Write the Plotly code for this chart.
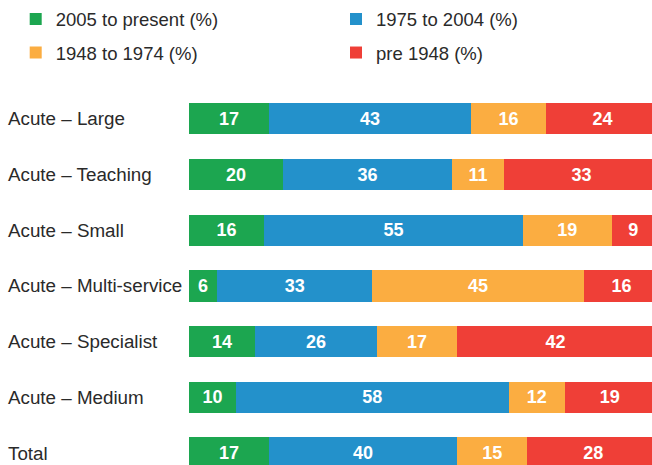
import plotly.graph_objects as go

categories = [
    "Acute – Large",
    "Acute – Teaching",
    "Acute – Small",
    "Acute – Multi-service",
    "Acute – Specialist",
    "Acute – Medium",
    "Total",
]
series_names = ["2005 to present (%)", "1975 to 2004 (%)", "1948 to 1974 (%)", "pre 1948 (%)"]
since_2005 = [17, 20, 16, 6, 14, 10, 17]
from_1975_to_2004 = [43, 36, 55, 33, 26, 58, 40]
from_1948_to_1974 = [16, 11, 19, 45, 17, 12, 15]
pre_1948 = [24, 33, 9, 16, 42, 19, 28]

series_values = [since_2005, from_1975_to_2004, from_1948_to_1974, pre_1948]
colors = ["#1ca650", "#2391cb", "#fbad41", "#ef3f37"]
legend_ids = ["legend", "legend2", "legend3", "legend4"]

W, H = 652, 465
L, T = 189, 91
band = 55.7

fig = go.Figure()
for name, vals, col, lg in zip(series_names, series_values, colors, legend_ids):
    fig.add_trace(go.Bar(
        y=categories, x=vals, name=name, orientation="h",
        marker=dict(color=col, line=dict(width=0)),
        text=vals, texttemplate="%{x}", textposition="inside",
        insidetextanchor="middle", textangle=0,
        textfont=dict(family="Liberation Sans, Arial", size=18, color="white", weight="bold"),
        legend=lg, showlegend=True, hoverinfo="skip",
    ))

plot_w = W - L
plot_h = H - T
x_max = plot_w / 4.7
y_bottom = -0.5 + plot_h / band

# category labels, left aligned at the page edge
for c in categories:
    fig.add_annotation(
        x=(6 - L) / plot_w, xref="paper", xanchor="left",
        y=c, yref="y", yanchor="middle", showarrow=False,
        text=c, font=dict(family="Liberation Sans, Arial", size=18.8, color="#2a2a2a"),
    )

legend_font = dict(family="Liberation Sans, Arial", size=18.5, color="#2a2a2a")
legend_pos = [(15.7, 19.5), (336, 19.5), (15.7, 53), (336, 53)]
legend_layout = {}
for lg, (px, py) in zip(legend_ids, legend_pos):
    legend_layout[lg] = dict(
        x=px / W, xref="container", xanchor="left",
        y=1 - py / H, yref="container", yanchor="middle",
        orientation="h", font=legend_font, bgcolor="rgba(0,0,0,0)",
    )

fig.update_layout(
    width=W, height=H,
    showlegend=True,
    margin=dict(l=L, r=0, t=T, b=0, pad=0),
    barmode="stack", bargap=0.44,
    plot_bgcolor="white", paper_bgcolor="white",
    xaxis=dict(range=[0, x_max], visible=False, fixedrange=True),
    yaxis=dict(categoryorder="array", categoryarray=categories,
               range=[y_bottom, -0.5], showticklabels=False,
               showgrid=False, zeroline=False, showline=False, ticks=""),
    **legend_layout,
)

fig.write_html("out.html")
